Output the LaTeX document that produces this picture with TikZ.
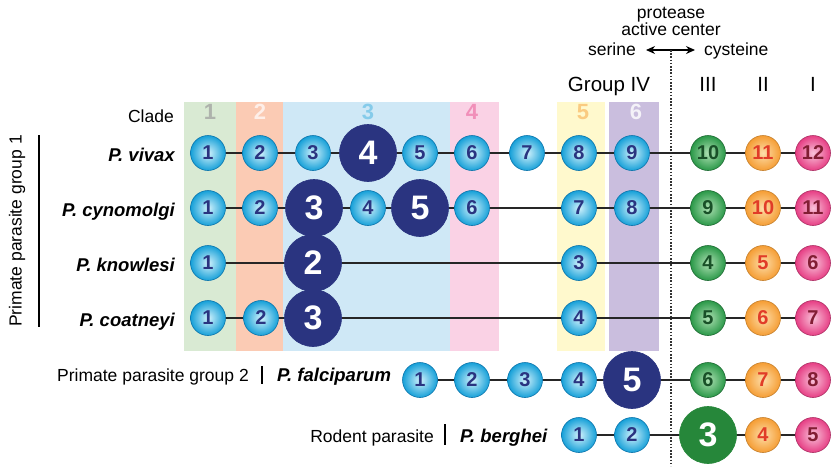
\documentclass[tikz,border=0pt]{standalone}
\usepackage{fontspec}
\setmainfont{Liberation Sans}
\usetikzlibrary{arrows.meta}

\definecolor{bandA}{RGB}{217,234,211}
\definecolor{bandB}{RGB}{251,203,180}
\definecolor{bandC}{RGB}{207,232,246}
\definecolor{bandD}{RGB}{250,210,229}
\definecolor{bandE}{RGB}{255,249,205}
\definecolor{bandF}{RGB}{202,190,222}
\definecolor{navy}{RGB}{42,52,128}
\definecolor{serbl}{RGB}{22,160,216}
\definecolor{serlt}{RGB}{210,242,252}
\definecolor{serdk}{RGB}{10,115,170}
\definecolor{grn}{RGB}{42,152,72}
\definecolor{grnlt}{RGB}{175,225,180}
\definecolor{grntxt}{RGB}{25,80,40}
\definecolor{grnbig}{RGB}{38,135,58}
\definecolor{org}{RGB}{245,157,52}
\definecolor{orglt}{RGB}{253,222,170}
\definecolor{orgtxt}{RGB}{225,60,40}
\definecolor{pnk}{RGB}{230,62,132}
\definecolor{pnklt}{RGB}{249,195,218}
\definecolor{pnktxt}{RGB}{130,30,52}

\tikzset{
  ball/.style={circle,inner sep=0pt,minimum size=35pt,line width=.6pt,
    font=\fontsize{20}{20}\selectfont\bfseries},
  ser/.style={ball,inner color=serlt,outer color=serbl,draw=serdk,text=navy},
  big/.style={ball,minimum size=57pt,fill=navy,draw=navy,text=white,
    font=\fontsize{34}{34}\selectfont\bfseries},
  cysg/.style={ball,inner color=grnlt,outer color=grn,draw=grn!70!black,text=grntxt},
  cyso/.style={ball,inner color=orglt,outer color=org,draw=org!80!black,text=orgtxt},
  cysp/.style={ball,inner color=pnklt,outer color=pnk,draw=pnk!75!black,text=pnktxt},
  bigg/.style={big,fill=grnbig,draw=grnbig},
  bond/.style={line width=1.1pt,black!85},
  lbl/.style={inner sep=0pt,font=\fontsize{17.5}{17.5}\selectfont},
  spec/.style={inner sep=0pt,font=\fontsize{18.5}{18.5}\selectfont\bfseries\itshape},
  head/.style={inner sep=0pt,font=\fontsize{20.5}{20.5}\selectfont},
  cladenum/.style={inner sep=0pt,font=\fontsize{22}{22}\selectfont\bfseries}
}

\begin{document}
\begin{tikzpicture}[x=1pt,y=-1pt]
  \useasboundingbox (0,0) rectangle (832,466);

  % clade bands
  \fill[bandA] (184,102) rectangle (236,351);
  \fill[bandB] (236,102) rectangle (283,351);
  \fill[bandC] (283,102) rectangle (450,351);
  \fill[bandD] (450,102) rectangle (499,351);
  \fill[bandE] (557,102) rectangle (605,351);
  \fill[bandF] (609,102) rectangle (659,351);
  \node[cladenum,text=bandA!55!black!60] (cl1) at (210,112) {1};
  \node[cladenum,text=white!70!bandB] (cl2) at (260,112) {2};
  \node[cladenum,text=bandC!60!serbl] (cl3) at (368,112) {3};
  \node[cladenum,text=bandD!55!pnk] (cl4) at (472,112) {4};
  \node[cladenum,text=bandE!50!org] (cl5) at (583,112) {5};
  \node[cladenum,text=white!80!bandF] (cl6) at (636,112) {6};
  \node[lbl,anchor=base east] (clade) at (174,122) {Clade};

  % header
  \node[lbl,anchor=base] (prot) at (671,18) {protease};
  \node[lbl,anchor=base] (actc) at (671,35) {active center};
  \node[lbl,anchor=base east] (serine) at (636,55) {serine};
  \node[lbl,anchor=base west] (cysteine) at (704,55) {cysteine};
  \draw[line width=1.2pt,{Stealth[length=9pt,width=8pt]}-{Stealth[length=9pt,width=8pt]},
    shorten <=10pt,shorten >=9pt] (serine.east|-0,50) -- (cysteine.west|-0,50);
  \coordinate (dtop) at (671,50);
  \coordinate (dbot) at (671,466);
  \draw[line width=1.2pt,black!80,dash pattern=on 1.6pt off 1.6pt] (dtop) -- (dbot);
  \node[head,anchor=base] (grpiv) at (609,91) {Group IV};
  \foreach \x/\t in {708/III,763/II,813/I}
    \node[head,anchor=base] (cys\t) at (\x,91) {\t};

  % group labels
  \node[lbl,rotate=90] (grpone) at (17,231) {Primate parasite group 1};
  \draw[line width=2.4pt] (39,135) -- (39,327);
  \node[lbl,anchor=base east] (grptwo) at (249,381) {Primate parasite group 2};
  \draw[line width=2.4pt] (262,366) -- (262,384);
  \node[lbl,anchor=base east] (rodent) at (434,442) {Rodent parasite};
  \draw[line width=2.4pt] (445,424) -- (445,445);

  % species names
  \node[spec,anchor=base east] (nviv) at (175,161) {P. vivax};
  \node[spec,anchor=base east] (ncyn) at (175,216) {P. cynomolgi};
  \node[spec,anchor=base east] (nkno) at (175,271) {P. knowlesi};
  \node[spec,anchor=base east] (ncoa) at (175,326) {P. coatneyi};
  \node[spec,anchor=base west] (nfal) at (277,381) {P. falciparum};
  \node[spec,anchor=base west] (nber) at (460,442) {P. berghei};

  % P. vivax
  \foreach \x/\n/\s in {208/1/ser,260/2/ser,313/3/ser,368/4/big,420/5/ser,
      472/6/ser,527/7/ser,579/8/ser,632/9/ser,708/10/cysg,763/11/cyso,813/12/cysp}
    \node[\s] (viv\n) at (\x,153) {\n};
  \foreach \n [remember=\n as \p (initially 1)] in {2,...,12}
    \draw[bond] (viv\p) -- (viv\n);

  % P. cynomolgi
  \foreach \x/\n/\s in {208/1/ser,260/2/ser,314/3/big,368/4/ser,420/5/big,
      472/6/ser,579/7/ser,632/8/ser,708/9/cysg,763/10/cyso,813/11/cysp}
    \node[\s] (cyn\n) at (\x,208) {\n};
  \foreach \n [remember=\n as \p (initially 1)] in {2,...,11}
    \draw[bond] (cyn\p) -- (cyn\n);

  % P. knowlesi
  \foreach \x/\n/\s in {208/1/ser,313/2/big,579/3/ser,708/4/cysg,763/5/cyso,813/6/cysp}
    \node[\s] (kno\n) at (\x,263) {\n};
  \foreach \n [remember=\n as \p (initially 1)] in {2,...,6}
    \draw[bond] (kno\p) -- (kno\n);

  % P. coatneyi
  \foreach \x/\n/\s in {208/1/ser,261/2/ser,313/3/big,579/4/ser,708/5/cysg,
      763/6/cyso,813/7/cysp}
    \node[\s] (coa\n) at (\x,318) {\n};
  \foreach \n [remember=\n as \p (initially 1)] in {2,...,7}
    \draw[bond] (coa\p) -- (coa\n);

  % P. falciparum
  \foreach \x/\n/\s in {420/1/ser,472/2/ser,525/3/ser,579/4/ser,632/5/big,
      708/6/cysg,763/7/cyso,813/8/cysp}
    \node[\s] (fal\n) at (\x,380) {\n};
  \foreach \n [remember=\n as \p (initially 1)] in {2,...,8}
    \draw[bond] (fal\p) -- (fal\n);

  % P. berghei
  \foreach \x/\n/\s in {579/1/ser,632/2/ser,708/3/bigg,763/4/cyso,813/5/cysp}
    \node[\s] (ber\n) at (\x,435) {\n};
  \foreach \n [remember=\n as \p (initially 1)] in {2,...,5}
    \draw[bond] (ber\p) -- (ber\n);
\end{tikzpicture}
\end{document}
